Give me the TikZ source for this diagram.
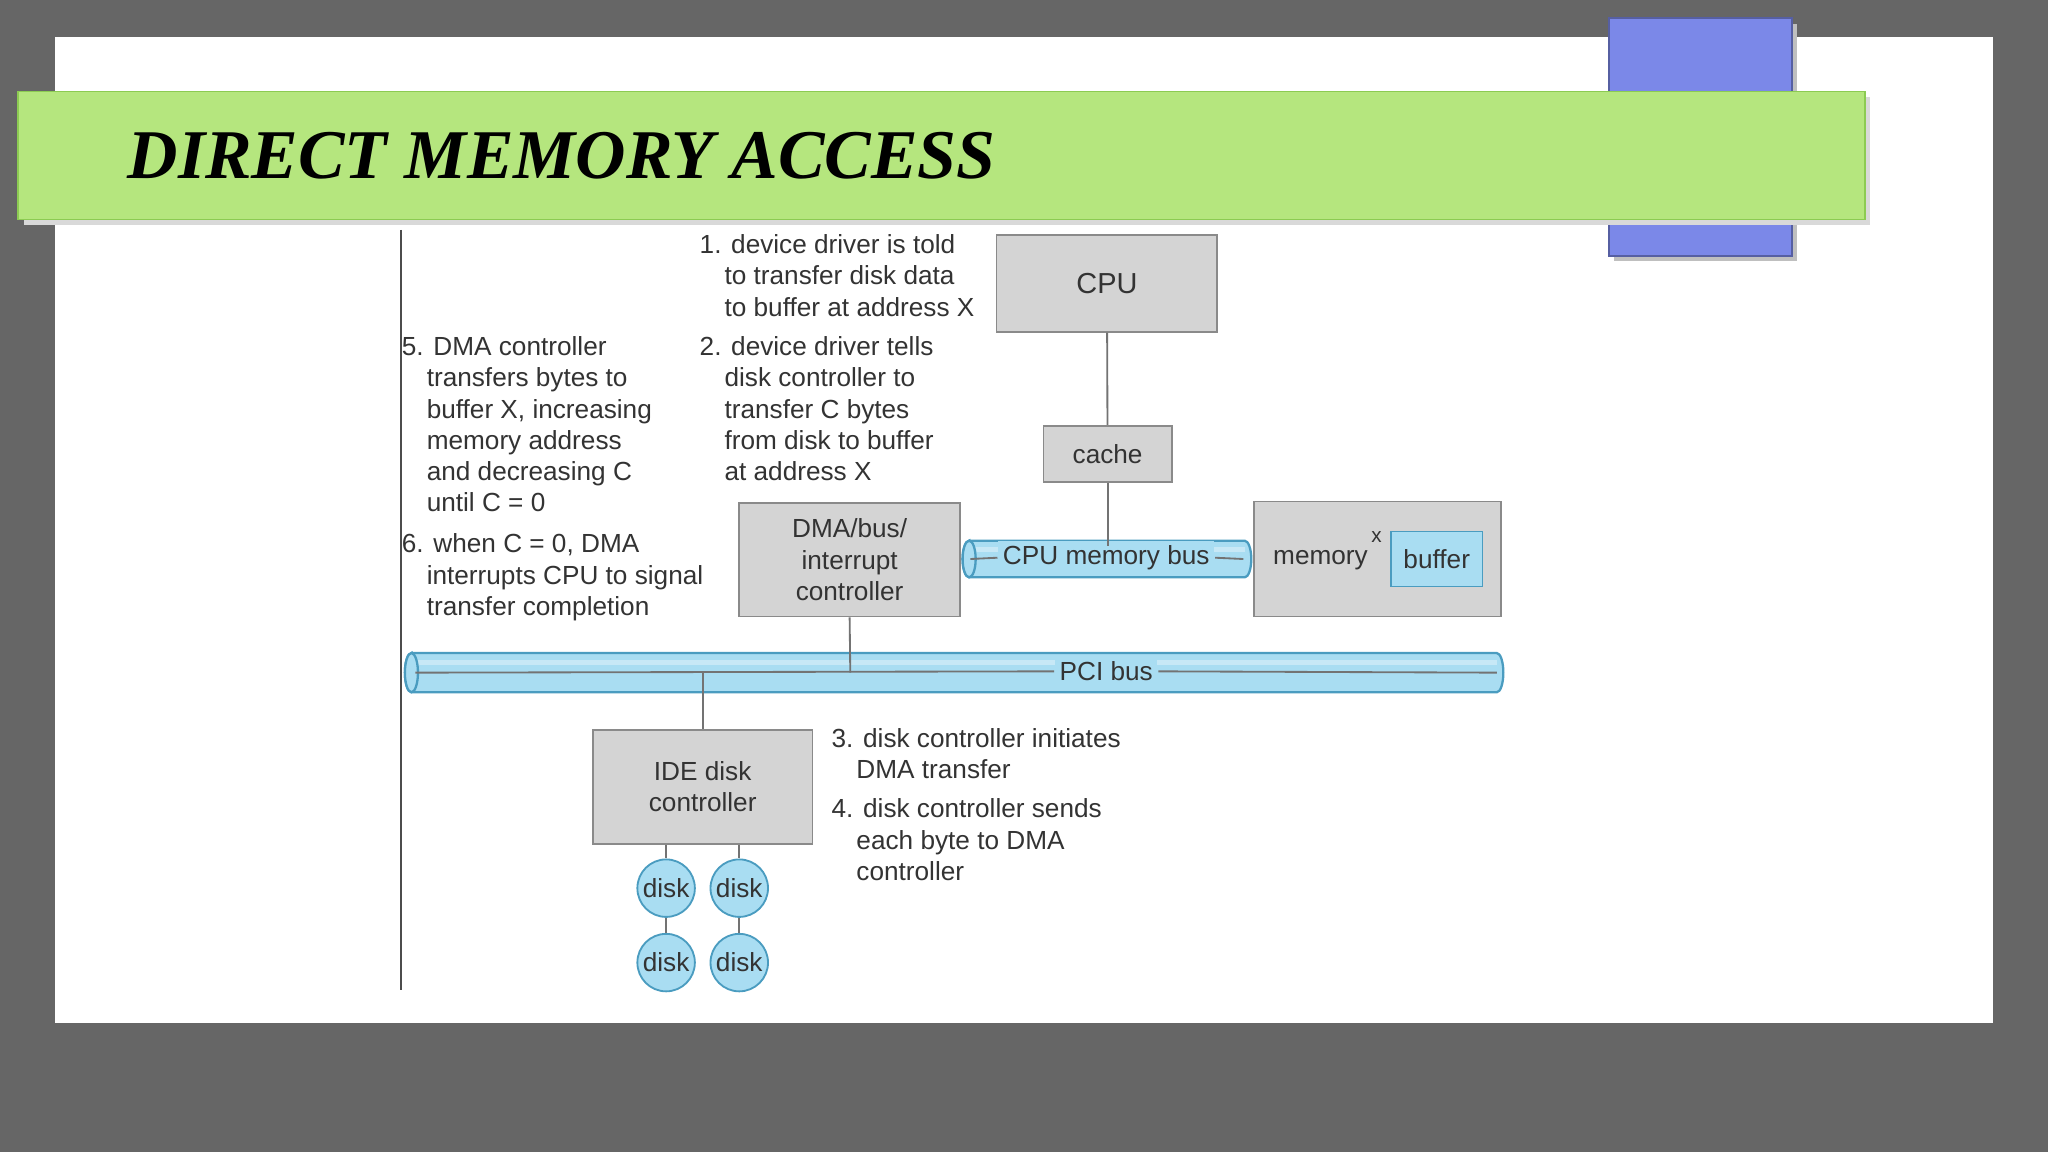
\documentclass[tikz,border=0pt]{standalone}
\usepackage{fontspec}
\setmainfont{Liberation Sans}
\newfontfamily\titlefont{Liberation Serif}
\definecolor{bg}{HTML}{666666}
\definecolor{boxg}{HTML}{D4D4D4}
\definecolor{boxb}{HTML}{8A8A8A}
\definecolor{busc}{HTML}{A9DDF2}
\definecolor{busb}{HTML}{4A9CC0}
\definecolor{bann}{HTML}{B5E67E}
\definecolor{bannb}{HTML}{8CCB52}
\definecolor{blu}{HTML}{7B88E8}
\newcommand{\ind}{\hspace*{0.95em}}
\begin{document}
\begin{tikzpicture}[x=0.01cm,y=-0.01cm,
  txt/.style={anchor=north west,inner sep=0pt,align=left,text=black!80,font=\fontsize{5.7pt}{6.8pt}\selectfont},
  box/.style={draw=boxb,fill=boxg,line width=0.4pt,inner sep=0pt,align=center,text=black!80,font=\fontsize{5.7pt}{6.8pt}\selectfont},
  disk/.style={circle,draw=busb,fill=busc,minimum size=0.44cm,inner sep=0pt,font=\fontsize{5.7pt}{6.8pt}\selectfont,text=black!80},
  ln/.style={draw=black!55,line width=0.4pt},
  busl/.style={draw=busb,fill=busc,line width=0.5pt}]
\useasboundingbox (0,0) rectangle (1568,882);
\fill[bg] (0,0) rectangle (1568,882);
\fill[white] (42,28) rectangle (1526,783);
\fill[black!25] (1236,18) rectangle (1376,200);
\filldraw[fill=blu,draw=blu!70!black] (1232,14) rectangle (1372,196);
\fill[black!15] (18,74) rectangle (1432,172);
\filldraw[fill=bann,draw=bannb] (14,70) rectangle (1428,168);
\node[anchor=west,inner sep=0pt,font=\titlefont\bfseries\itshape\fontsize{15.2pt}{18pt}\selectfont] (title) at (97,119) {DIRECT MEMORY ACCESS};
% left rule
\coordinate (vt) at (307,176); \coordinate (vb) at (307,758);
\draw[black!70,line width=0.5pt] (vt) -- (vb);
% texts
\node[txt] (t1) at (535,179) {1. device driver is told\\\ind to transfer disk data\\\ind to buffer at address X};
\node[txt] (t2) at (535,257) {2. device driver tells\\\ind disk controller to\\\ind transfer C bytes\\\ind from disk to buffer\\\ind at address X};
\node[txt] (t5) at (307,257) {5. DMA controller\\\ind transfers bytes to\\\ind buffer X, increasing\\\ind memory address\\\ind and decreasing C\\\ind until C = 0};
\node[txt] (t6) at (307,408) {6. when C = 0, DMA\\\ind interrupts CPU to signal\\\ind transfer completion};
\node[txt] (t3) at (636,557) {3. disk controller initiates\\\ind DMA transfer};
\node[txt] (t4) at (636,611) {4. disk controller sends\\\ind each byte to DMA\\\ind controller};
% buses (cylinders)
\filldraw[busl] (742,414) -- (953,414) arc[start angle=90,end angle=-90,x radius=0.05cm,y radius=0.14cm] -- (742,442) arc[start angle=270,end angle=90,x radius=0.05cm,y radius=0.14cm] -- cycle;
\fill[white,opacity=0.35] (742,419) rectangle (953,423);
\draw[busl] (742,428) ellipse [x radius=0.05cm,y radius=0.14cm];
\filldraw[busl] (315,500) -- (1146,500) arc[start angle=90,end angle=-90,x radius=0.05cm,y radius=0.15cm] -- (315,530) arc[start angle=270,end angle=90,x radius=0.05cm,y radius=0.15cm] -- cycle;
\fill[white,opacity=0.35] (315,505) rectangle (1146,509);
\draw[busl] (315,515) ellipse [x radius=0.05cm,y radius=0.15cm];
% boxes
\node[box,minimum width=1.69cm,minimum height=0.74cm] (cpu) at (847.5,217) {\fontsize{6.3pt}{7pt}\selectfont CPU};
\node[box,minimum width=0.98cm,minimum height=0.43cm] (cache) at (848,347.5) {cache};
\node[box,minimum width=1.69cm,minimum height=0.87cm] (dma) at (650.5,428.5) {DMA/bus/\\interrupt\\controller};
\node[box,minimum width=1.89cm,minimum height=0.88cm] (mem) at (1054.5,428) {};
\node[inner sep=0pt,text=black!80,font=\fontsize{5.7pt}{6.8pt}\selectfont] (memt) at (1011,429) {memory};
\node[inner sep=0pt,text=black!80,font=\fontsize{4.5pt}{5pt}\selectfont] (xl) at (1054,411) {x};
\node[draw=busb,fill=busc,minimum width=0.70cm,minimum height=0.42cm,inner sep=0pt,text=black!80,font=\fontsize{5.7pt}{6.8pt}\selectfont] (buf) at (1100,428) {buffer};
\node[box,minimum width=1.68cm,minimum height=0.87cm] (ide) at (538,602.5) {IDE disk\\controller};
\coordinate (cmbl) at (743,428); \coordinate (cmbr) at (952,428);
\node[inner sep=1pt,fill=busc,text=black!80,font=\fontsize{5.7pt}{6.8pt}\selectfont] (cmbt) at (847,427) {CPU memory bus};
\draw[ln] (cmbl) -- (cmbt.west); \draw[ln] (cmbt.east) -- (cmbr);
\coordinate (pcil) at (318,515); \coordinate (pcir) at (1146,515);
\node[inner sep=1pt,fill=busc,text=black!80,font=\fontsize{5.7pt}{6.8pt}\selectfont] (pcit) at (847,514) {PCI bus};
\draw[ln] (pcil) -- (pcit.west); \draw[ln] (pcit.east) -- (pcir);
% connectors
\coordinate (cpuj) at (848,418);
\draw[ln] (cpu) -- (cache);
\draw[ln] (cache) -- (cpuj);
\coordinate (dmaj) at (651,515);
\draw[ln] (dma.south) -- (dmaj);
\coordinate (idej) at (538,515);
\draw[ln] (idej) -- (ide.north);
% disks
\node[disk] (d1) at (510,680) {disk};
\node[disk] (d2) at (566,680) {disk};
\node[disk] (d3) at (510,737) {disk};
\node[disk] (d4) at (566,737) {disk};
\draw[ln] (d1 |- ide.south) -- (d1); \draw[ln] (d2 |- ide.south) -- (d2);
\draw[ln] (d1) -- (d3); \draw[ln] (d2) -- (d4);
\end{tikzpicture}
\end{document}
